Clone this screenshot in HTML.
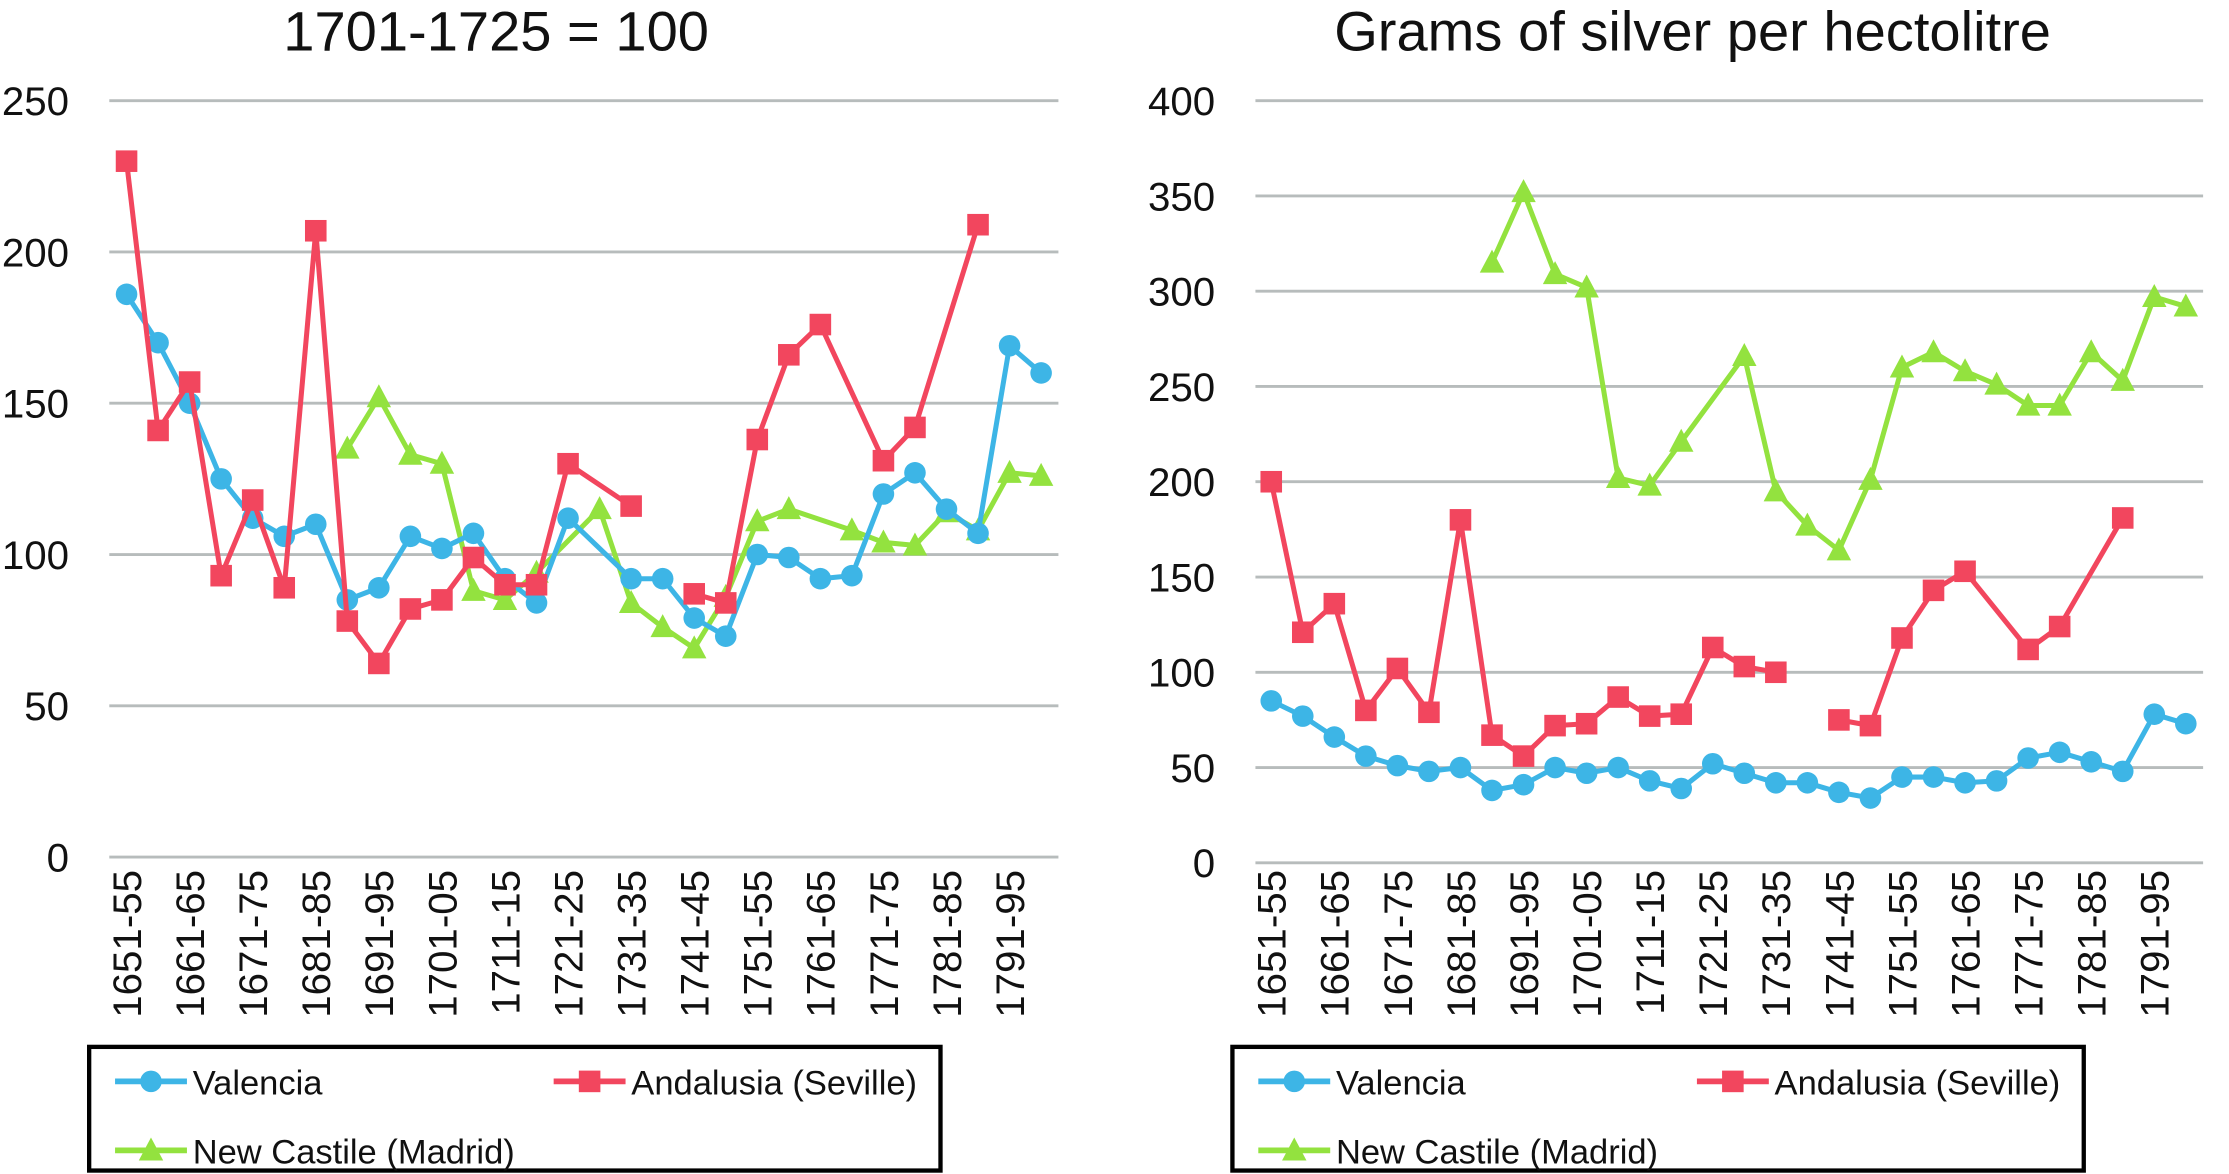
<!DOCTYPE html>
<html><head><meta charset="utf-8"><style>
html,body{margin:0;padding:0;background:#fff;}
svg{display:block;font-family:"Liberation Sans",Arial,sans-serif;}
</style></head><body>
<svg id="chart" width="2229" height="1174" viewBox="0 0 1550 816.4" preserveAspectRatio="none" xmlns="http://www.w3.org/2000/svg"></svg>
<script>
const categories = ["1651-55","1656-60","1661-65","1666-70","1671-75","1676-80","1681-85","1686-90","1691-95","1696-1700","1701-05","1706-10","1711-15","1716-20","1721-25","1726-30","1731-35","1736-40","1741-45","1746-50","1751-55","1756-60","1761-65","1766-70","1771-75","1776-80","1781-85","1786-90","1791-95","1796-1800"];
const leftTicks = [0,50,100,150,200,250];
const rightTicks = [0,50,100,150,200,250,300,350,400];
const leftValencia = [186,170,150,125,112,106,110,85,89,106,102,107,92,84,112,null,92,92,79,73,100,99,92,93,120,127,115,107,169,160];
const leftAndalusia = [230,141,157,93,118,89,207,78,64,82,85,99,90,90,130,null,116,null,87,84,138,166,176,null,131,142,null,209,null,null];
const leftCastile = [null,null,null,null,null,null,null,135,152,133,130,88,85,94,null,115,84,76,69,86,111,115,null,108,104,103,114,108,127,126];
const rightValencia = [85,77,66,56,51,48,50,38,41,50,47,50,43,39,52,47,42,42,37,34,45,45,42,43,55,58,53,48,78,73];
const rightAndalusia = [200,121,136,80,102,79,180,67,56,72,73,87,77,78,113,103,100,null,75,72,118,143,153,null,112,124,null,181,null,null];
const rightCastile = [null,null,null,null,null,null,null,315,352,309,302,202,198,221,null,266,195,177,164,201,260,268,258,251,240,240,268,253,297,292];
const andalusiaBreaks = [17];

const NS="http://www.w3.org/2000/svg";
const svg=document.getElementById('chart');
function mk(tag,attrs,parent){const e=document.createElementNS(NS,tag);for(const k in attrs)e.setAttribute(k,attrs[k]);(parent||svg).appendChild(e);return e;}
const C={blue:"#3db5e6",red:"#f2465e",green:"#93e23f"};

function drawPanel(o){
  const g=mk('g',{});
  
  
  const x=i=>o.x0+i*o.dx;
  const y=v=>o.yBase-(v/o.max)*(o.yBase-o.yTop);
  const t=mk('text',{x:o.titleX,y:35,'font-size':39,'text-anchor':'middle',fill:'#111'},g);
  t.textContent=o.title;
  
  
  o.ticks.forEach(v=>{
    const l=mk('line',{x1:o.gx0,x2:o.gx1,y1:y(v),y2:y(v),stroke:'#b7bcbc','stroke-width':2},g);
    
    
    const tl=mk('text',{x:o.labelX,y:y(v)+10,'font-size':28,'text-anchor':'end',fill:'#111'},g);
    tl.textContent=v;
    
    
  });
  categories.forEach((c,i)=>{
    if(i%2)return;
    const tx=mk('text',{x:0,y:0,'font-size':28,'text-anchor':'end',fill:'#111',transform:`translate(${x(i)+10},605) rotate(-90)`},g);
    tx.textContent=c;
    
    
  });
  function series(vals,color,marker,name,breaks){
    const sg=mk('g',{},g);
    
    
    let segs=[],cur=[];
    vals.forEach((v,i)=>{
      if((breaks||[]).includes(i)){if(cur.length)segs.push(cur);cur=[];return;}
      if(v==null)return;
      cur.push([x(i),y(v)]);
    });
    if(cur.length)segs.push(cur);
    segs.forEach(s=>{
      const p=mk('polyline',{points:s.map(q=>q.join(',')).join(' '),fill:'none',stroke:color,'stroke-width':3.5,'stroke-linejoin':'round'},sg);
      
      
    });
    vals.forEach((v,i)=>{
      if(v==null)return;
      const cx=x(i),cy=y(v);let m;
      if(marker==='circle')m=mk('circle',{cx:cx,cy:cy,r:7.5,fill:color},sg);
      else if(marker==='square')m=mk('rect',{x:cx-7.5,y:cy-7.5,width:15,height:15,fill:color},sg);
      else m=mk('polygon',{points:`${cx},${cy-9} ${cx+8.5},${cy+7} ${cx-8.5},${cy+7}`,fill:color},sg);
      
      
    });
  }
  series(o.castile,C.green,'tri','series-new-castile');
  series(o.valencia,C.blue,'circle','series-valencia');
  series(o.andalusia,C.red,'square','series-andalusia',andalusiaBreaks);
  const lg=mk('g',{},g);
  
  
  const bx=o.legX;
  const box=mk('rect',{x:bx,y:728,width:592,height:86,fill:'#fff',stroke:'#000','stroke-width':3},lg);
  
  
  const entries=[[bx+18,752,C.blue,'circle','Valencia'],[bx+323,752,C.red,'square','Andalusia (Seville)'],[bx+18,800,C.green,'tri','New Castile (Madrid)']];
  entries.forEach(e=>{
    const [ex,ey,col,mkr,lab]=e;
    const eg=mk('g',{},lg);
    
    
    mk('line',{x1:ex,x2:ex+50,y1:ey,y2:ey,stroke:col,'stroke-width':4},eg);
    const cx=ex+25;
    if(mkr==='circle')mk('circle',{cx:cx,cy:ey,r:7.5,fill:col},eg);
    else if(mkr==='square')mk('rect',{x:cx-7.5,y:ey-7.5,width:15,height:15,fill:col},eg);
    else mk('polygon',{points:`${cx},${ey-9} ${cx+8.5},${ey+7} ${cx-8.5},${ey+7}`,fill:col},eg);
    const lt=mk('text',{x:ex+54,y:ey+9,'font-size':24,fill:'#111'},eg);
    lt.textContent=lab;
  });
}
drawPanel({name:'left-panel',title:'1701-1725 = 100',titleX:345,x0:88,dx:21.93,gx0:76,gx1:736,yTop:70,yBase:596,max:250,ticks:leftTicks,labelX:48,valencia:leftValencia,andalusia:leftAndalusia,castile:leftCastile,legX:62});
drawPanel({name:'right-panel',title:'Grams of silver per hectolitre',titleX:1177,x0:884,dx:21.93,gx0:873,gx1:1532,yTop:70,yBase:600,max:400,ticks:rightTicks,labelX:845,valencia:rightValencia,andalusia:rightAndalusia,castile:rightCastile,legX:857});
</script>
</body></html>
